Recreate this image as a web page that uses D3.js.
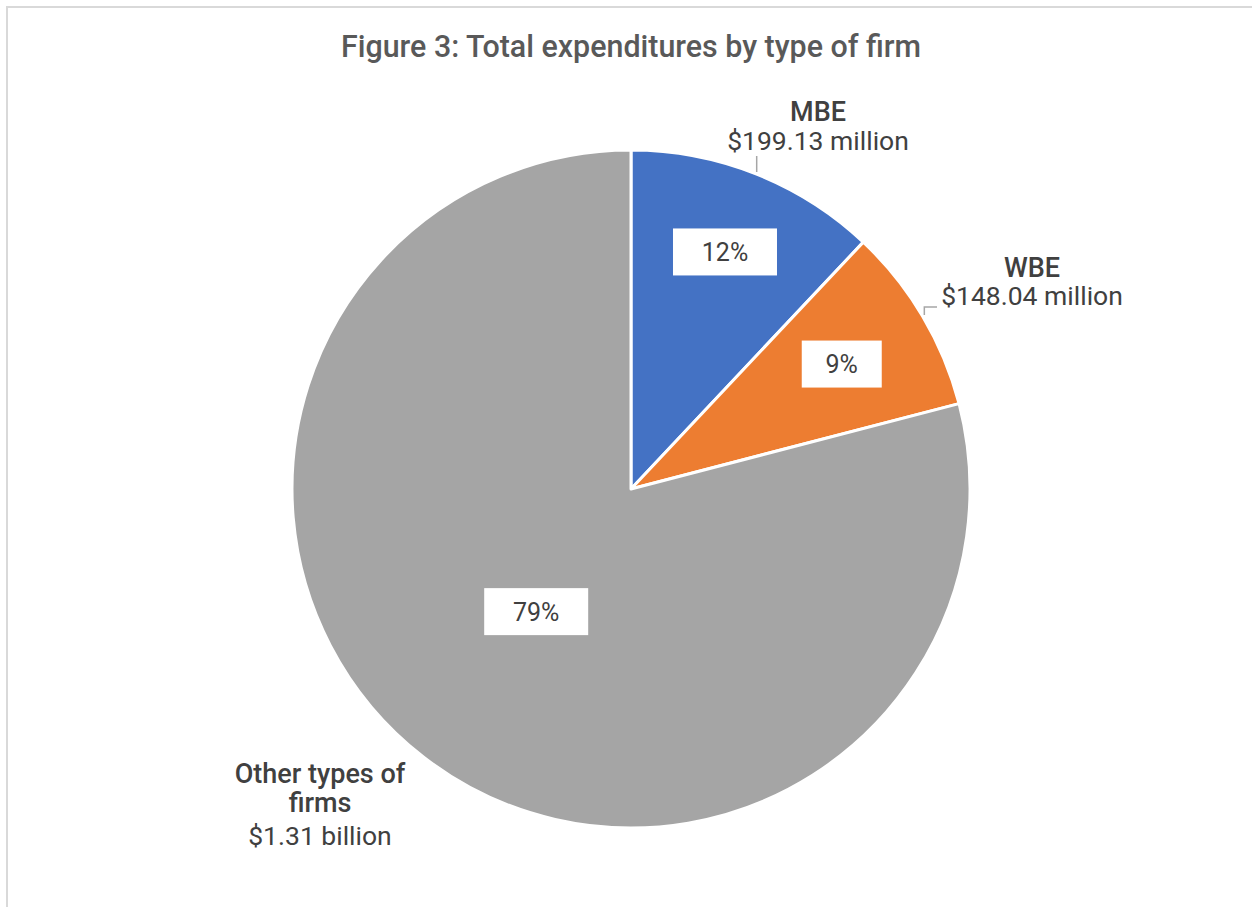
<!DOCTYPE html>
<html>
<head>
<meta charset="utf-8">
<script src="https://cdn.jsdelivr.net/npm/d3@7"></script>
<style>
  html, body { margin: 0; padding: 0; background: #fff; }
  svg { display: block; }
</style>
</head>
<body>
<svg id="chart" width="1253" height="907"></svg>
<script>
// Expenditure categories and amounts (millions of dollars)
const categories = ["MBE", "WBE", "Other types of firms"];
const amounts = [199.13, 148.04, 1310];
const amountLabels = ["$199.13 million", "$148.04 million", "$1.31 billion"];
const colors = ["#4472C4", "#ED7D31", "#A5A5A5"];
const title = "Figure 3: Total expenditures by type of firm";

const W = 1253, H = 907;
const cx = 631, cy = 489, R = 339;
const font = "Roboto, 'Liberation Sans', sans-serif";

const svg = d3.select("#chart");

// Chart-area frame (top and left edges visible)
svg.append("path")
  .attr("d", `M7,${H} L7,7 L${W - 1},7`)
  .attr("fill", "none")
  .attr("stroke", "#d9d9d9")
  .attr("stroke-width", 2);

// Title
svg.append("text")
  .attr("x", cx)
  .attr("y", 57)
  .attr("text-anchor", "middle")
  .attr("font-family", font)
  .attr("font-weight", 500)
  .attr("font-size", 32)
  .attr("fill", "#595959")
  .attr("textLength", 580)
  .attr("lengthAdjust", "spacingAndGlyphs")
  .text(title);

const data = categories.map((c, i) => ({ name: c, value: amounts[i], amount: amountLabels[i], color: colors[i] }));
const total = d3.sum(amounts);

const pie = d3.pie().sort(null).value(d => d.value);
const arcs = pie(data);
const arc = d3.arc().innerRadius(0).outerRadius(R);

const g = svg.append("g").attr("transform", `translate(${cx},${cy})`);

g.selectAll("path.slice")
  .data(arcs)
  .enter().append("path")
  .attr("class", "slice")
  .attr("d", arc)
  .attr("fill", d => d.data.color)
  .attr("stroke", "#fff")
  .attr("stroke-width", 3)
  .attr("stroke-linejoin", "round");

// Percentage labels in white boxes, placed along each slice's mid-angle
const pctRadius = [255, 245, 155];
const fmtPct = d3.format(".0%");
const polar = (a, r) => [Math.sin(a) * r, -Math.cos(a) * r];

arcs.forEach((d, i) => {
  const mid = (d.startAngle + d.endAngle) / 2;
  const [x, y] = polar(mid, pctRadius[i]);
  const bw = fmtPct(d.value / total).length > 2 ? 104 : 80;
  const bh = 47;
  g.append("rect")
    .attr("x", x - bw / 2)
    .attr("y", y - bh / 2)
    .attr("width", bw)
    .attr("height", bh)
    .attr("fill", "#fff");
  g.append("text")
    .attr("x", x)
    .attr("y", y + 9)
    .attr("text-anchor", "middle")
    .attr("font-family", font)
    .attr("font-size", 25)
    .attr("fill", "#404040")
    .text(fmtPct(d.value / total));
});

// Category labels outside the pie with short leader lines
const labelText = (x, lines) => {
  const t = svg.append("text")
    .attr("text-anchor", "middle")
    .attr("font-family", font)
    .attr("fill", "#404040");
  lines.forEach(l => {
    t.append("tspan")
      .attr("x", x)
      .attr("y", l.y)
      .attr("font-size", l.size)
      .attr("font-weight", l.bold ? 500 : 400)
      .text(l.text);
  });
};

// MBE
labelText(818, [
  { text: categories[0], y: 121, size: 27, bold: true },
  { text: amountLabels[0], y: 150, size: 26.5 }
]);
{
  const mid = (arcs[0].startAngle + arcs[0].endAngle) / 2;
  const [ex, ey] = polar(mid, R + 2);
  svg.append("path")
    .attr("d", `M${cx + ex},${cy + ey} L${cx + ex},156`)
    .attr("fill", "none").attr("stroke", "#a6a6a6").attr("stroke-width", 1.5);
}

// WBE
labelText(1032, [
  { text: categories[1], y: 277, size: 27, bold: true },
  { text: amountLabels[1], y: 305, size: 26.5 }
]);
{
  const mid = (arcs[1].startAngle + arcs[1].endAngle) / 2;
  const [ex, ey] = polar(mid, R + 2);
  svg.append("path")
    .attr("d", `M${cx + ex},${cy + ey} L${cx + ex},307 L937,307`)
    .attr("fill", "none").attr("stroke", "#a6a6a6").attr("stroke-width", 1.5);
}

// Other types of firms
labelText(320, [
  { text: "Other types of", y: 783, size: 27, bold: true },
  { text: "firms", y: 812, size: 27, bold: true },
  { text: amountLabels[2], y: 845, size: 26.5 }
]);
</script>
</body>
</html>
